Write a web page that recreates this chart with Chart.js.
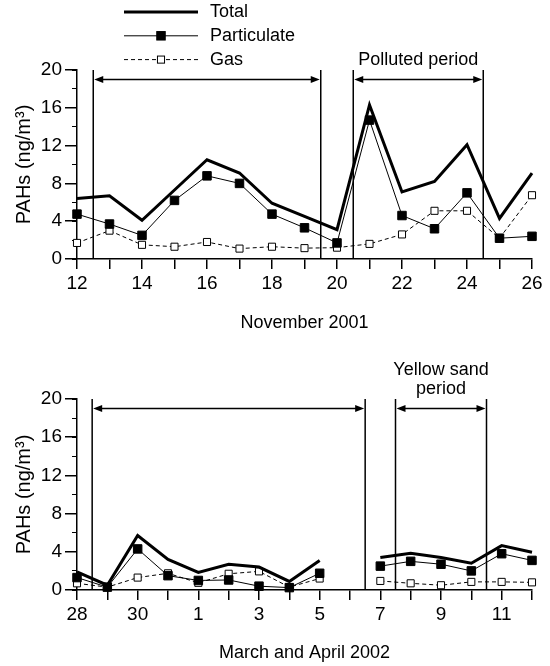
<!DOCTYPE html>
<html>
<head>
<meta charset="utf-8">
<script src="https://cdn.jsdelivr.net/npm/chart.js@4.4.1/dist/chart.umd.min.js"></script>
<style>
  body { margin: 0; background: #fff; }
  canvas { position: absolute; left: 0; }
  #grafico1 { top: 0; }
  #grafico2 { top: 345px; }
</style>
</head>
<body>
<canvas id="grafico1" width="550" height="345"></canvas>
<canvas id="grafico2" width="550" height="321"></canvas>
<script>
/* datos: noviembre 2001 */
const novDays = [12, 13, 14, 15, 16, 17, 18, 19, 20, 21, 22, 23, 24, 25, 26];
const novTotal = [6.4, 6.7, 4.1, 7.3, 10.5, 9.1, 5.9, 4.5, 3.1, 16.3, 7.1, 8.2, 12.1, 4.3, 9.1];
const novPart = [4.75, 3.7, 2.5, 6.2, 8.8, 8.0, 4.75, 3.3, 1.7, 14.7, 4.6, 3.2, 7.0, 2.2, 2.4];
const novGas = [1.7, 3.0, 1.5, 1.3, 1.8, 1.1, 1.3, 1.15, 1.2, 1.6, 2.6, 5.1, 5.1, 2.2, 6.75];
const novPeriods = [[12.5, 19.5], [20.5, 24.5]];

/* datos: marzo y abril 2002 (dia 6 sin muestra) */
const marDays = ['28', '29', '30', '31', '1', '2', '3', '4', '5', '6', '7', '8', '9', '10', '11', '12'];
const marTotal = [1.9, 0.5, 5.7, 3.2, 1.85, 2.7, 2.4, 0.9, 3.1, null, 3.4, 3.85, 3.4, 2.8, 4.65, 3.95];
const marPart = [1.3, 0.3, 4.3, 1.5, 1.0, 1.05, 0.4, 0.25, 1.75, null, 2.5, 3.0, 2.7, 2.0, 3.8, 3.1];
const marGas = [0.7, 0.3, 1.3, 1.75, 0.75, 1.7, 1.95, 0.3, 1.2, null, 0.95, 0.7, 0.5, 0.85, 0.85, 0.8];
const marPeriods = [[0.5, 9.5], [10.5, 13.5]];

const seriesNames = ['Total', 'Particulate', 'Gas'];
const yMax = 20;
const arrowLevel = 19;

const fontFam = '"Liberation Sans", Arial, Helvetica, sans-serif';
Chart.defaults.font.family = fontFam;
Chart.defaults.color = '#000';

/* lineas verticales, flechas y rotulo de periodo */
const periodPlugin = {
  id: 'periods',
  afterDatasetsDraw(chart, args, opts) {
    const ctx = chart.ctx;
    const x = chart.scales.x, y = chart.scales.y;
    const top = y.getPixelForValue(yMax), bot = y.getPixelForValue(0);
    const ya = y.getPixelForValue(arrowLevel);
    ctx.save();
    ctx.strokeStyle = '#000';
    ctx.fillStyle = '#000';
    ctx.lineWidth = 1.5;
    opts.periods.forEach(function (p) {
      const xa = x.getPixelForValue(p[0]), xb = x.getPixelForValue(p[1]);
      ctx.beginPath();
      ctx.moveTo(xa, top); ctx.lineTo(xa, bot);
      ctx.moveTo(xb, top); ctx.lineTo(xb, bot);
      ctx.moveTo(xa + 6, ya); ctx.lineTo(xb - 6, ya);
      ctx.stroke();
      ctx.beginPath();
      ctx.moveTo(xa + 1, ya); ctx.lineTo(xa + 10, ya - 3.5); ctx.lineTo(xa + 10, ya + 3.5);
      ctx.closePath();
      ctx.moveTo(xb - 1, ya); ctx.lineTo(xb - 10, ya - 3.5); ctx.lineTo(xb - 10, ya + 3.5);
      ctx.closePath();
      ctx.fill();
    });
    const lab = opts.label;
    if (lab) {
      const p = opts.periods[lab.period];
      const cx = (x.getPixelForValue(p[0]) + x.getPixelForValue(p[1])) / 2;
      ctx.font = '18px ' + fontFam;
      ctx.textAlign = 'center';
      ctx.textBaseline = 'middle';
      const n = lab.text.length;
      lab.text.forEach(function (t, i) {
        ctx.fillText(t, cx, chart.chartArea.top - 10 - (n - 1 - i) * 19);
      });
    }
    ctx.restore();
  }
};

/* leyenda vertical con muestras largas */
const legendPlugin = {
  id: 'legendLines',
  afterDraw(chart, args, opts) {
    if (!opts.show) return;
    const ctx = chart.ctx;
    ctx.save();
    chart.data.datasets.forEach(function (ds, i) {
      const yy = 12 + i * 23.8;
      const x0 = 124, x1 = 198, xm = (x0 + x1) / 2;
      ctx.strokeStyle = '#000';
      ctx.lineWidth = ds.borderWidth;
      ctx.setLineDash(ds.borderDash || []);
      ctx.beginPath();
      ctx.moveTo(x0, yy); ctx.lineTo(x1, yy);
      ctx.stroke();
      ctx.setLineDash([]);
      if (ds.pointRadius > 0) {
        const s = ds.pointRadius * Math.SQRT1_2;
        ctx.fillStyle = ds.pointBackgroundColor;
        ctx.fillRect(xm - s, yy - s, 2 * s, 2 * s);
        ctx.lineWidth = 1;
        ctx.strokeRect(xm - s, yy - s, 2 * s, 2 * s);
      }
      ctx.fillStyle = '#000';
      ctx.font = '18px ' + fontFam;
      ctx.textAlign = 'left';
      ctx.textBaseline = 'middle';
      ctx.fillText(ds.label, 210, yy);
    });
    ctx.restore();
  }
};

function toPoints(xs, ys) {
  return ys.map(function (v, i) { return { x: xs[i], y: v }; });
}

function makeChart(id, xs, total, part, gas, cfg) {
  const ctx = document.getElementById(id).getContext('2d');
  return new Chart(ctx, {
    type: 'line',
    data: {
      datasets: [{
        label: seriesNames[0],
        data: toPoints(xs, total),
        borderColor: '#000',
        borderWidth: 3,
        pointRadius: 0,
        clip: false
      }, {
        label: seriesNames[1],
        data: toPoints(xs, part),
        borderColor: '#000',
        borderWidth: 1,
        pointStyle: 'rect',
        pointRadius: 6,
        pointBackgroundColor: '#000',
        pointBorderColor: '#000',
        clip: false
      }, {
        label: seriesNames[2],
        data: toPoints(xs, gas),
        borderColor: '#000',
        borderWidth: 1,
        borderDash: [4, 3],
        pointStyle: 'rect',
        pointRadius: 5,
        pointBackgroundColor: '#fff',
        pointBorderColor: '#000',
        pointBorderWidth: 1,
        clip: false
      }]
    },
    options: {
      responsive: false,
      animation: false,
      events: [],
      layout: { padding: cfg.padding },
      plugins: {
        legend: { display: false },
        tooltip: { enabled: false },
        periods: { periods: cfg.periods, label: cfg.label },
        legendLines: { show: cfg.legend }
      },
      scales: {
        x: {
          type: 'linear',
          min: xs[0],
          max: xs[xs.length - 1],
          afterFit: function (s) { s.height = cfg.xHeight; },
          ticks: {
            stepSize: 1,
            autoSkip: false,
            maxRotation: 0,
            padding: 3,
            color: '#000',
            font: { size: 19 },
            callback: cfg.xLabel
          },
          grid: { drawOnChartArea: false, tickLength: 10, color: '#000', lineWidth: 1.5 },
          border: { color: '#000', width: 1.5 },
          title: {
            display: true,
            text: cfg.xTitle,
            color: '#000',
            font: { size: 18 },
            padding: { top: 0, bottom: 0 }
          }
        },
        y: {
          axis: 'y',
          position: 'left',
          weight: 1,
          min: 0,
          max: yMax,
          afterFit: function (s) { s.width = 77; },
          ticks: { stepSize: 4, padding: 3, color: '#000', font: { size: 19 } },
          grid: { drawOnChartArea: false, tickLength: 12, color: '#000', lineWidth: 1.5 },
          border: { color: '#000', width: 1.5 },
          title: {
            display: true,
            text: 'PAHs (ng/m³)',
            color: '#000',
            font: { size: 20 },
            padding: { top: 12, bottom: 0 }
          }
        },
        yMinor: {
          axis: 'y',
          position: 'left',
          weight: 0,
          min: 0,
          max: yMax,
          afterFit: function (s) { s.width = 0; },
          ticks: { stepSize: 2, display: false },
          grid: { drawOnChartArea: false, tickLength: 5, color: '#000', lineWidth: 1 },
          border: { display: false }
        }
      }
    },
    plugins: [periodPlugin, legendPlugin]
  });
}

/* grafico 1 */
makeChart('grafico1', novDays, novTotal, novPart, novGas, {
  padding: { top: 70, right: 18, left: 0, bottom: 11 },
  xHeight: 75,
  xTitle: 'November 2001',
  xLabel: function (v) { return v % 2 === 0 ? String(v) : ''; },
  periods: novPeriods,
  label: { text: ['Polluted period'], period: 1 },
  legend: true
});

/* grafico 2 */
const marIdx = marDays.map(function (d, i) { return i; });
makeChart('grafico2', marIdx, marTotal, marPart, marGas, {
  padding: { top: 54, right: 18, left: 0, bottom: 2 },
  xHeight: 74,
  xTitle: 'March and April 2002',
  xLabel: function (v) { return v % 2 === 0 ? marDays[v] : ''; },
  periods: marPeriods,
  label: { text: ['Yellow sand', 'period'], period: 1 },
  legend: false
});
</script>
</body>
</html>
